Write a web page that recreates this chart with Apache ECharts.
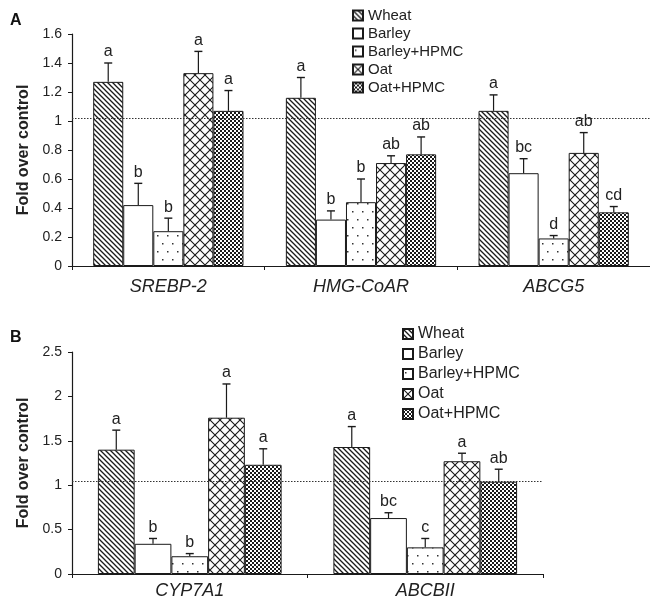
<!DOCTYPE html>
<html>
<head>
<meta charset="utf-8">
<script src="https://cdn.jsdelivr.net/npm/echarts@6/dist/echarts.min.js"></script>
<style>
  html, body { margin: 0; padding: 0; background: #fff; }
  #chart { width: 650px; height: 601px; }
</style>
</head>
<body>
<div id="chart"></div>
<script>
const treatments = ['Wheat', 'Barley', 'Barley+HPMC', 'Oat', 'Oat+HPMC'];
const genesA = ['SREBP-2', 'HMG-CoAR', 'ABCG5'];
const genesB = ['CYP7A1', 'ABCBII'];

// fold over control, one value per treatment (same order as treatments)
const srebp2Mean = [1.27, 0.42, 0.24, 1.33, 1.07];
const srebp2Err  = [0.13, 0.15, 0.09, 0.15, 0.14];
const srebp2Sig  = ['a', 'b', 'b', 'a', 'a'];
const hmgMean = [1.16, 0.32, 0.44, 0.71, 0.77];
const hmgErr  = [0.14, 0.06, 0.16, 0.05, 0.12];
const hmgSig  = ['a', 'b', 'b', 'ab', 'ab'];
const abcg5Mean = [1.07, 0.64, 0.19, 0.78, 0.37];
const abcg5Err  = [0.11, 0.10, 0.02, 0.14, 0.04];
const abcg5Sig  = ['a', 'bc', 'd', 'ab', 'cd'];

const cyp7a1Mean = [1.40, 0.34, 0.20, 1.76, 1.23];
const cyp7a1Err  = [0.22, 0.06, 0.03, 0.38, 0.18];
const cyp7a1Sig  = ['a', 'b', 'b', 'a', 'a'];
const abcbiiMean = [1.43, 0.63, 0.30, 1.27, 1.04];
const abcbiiErr  = [0.23, 0.06, 0.10, 0.09, 0.14];
const abcbiiSig  = ['a', 'bc', 'c', 'a', 'ab'];

// y axes and the dotted control line
const yMaxA = 1.6, yStepA = 0.2, controlA = 1.02;
const yMaxB = 2.5, yStepB = 0.5, controlB = 1.04;

const meansA = [srebp2Mean, hmgMean, abcg5Mean];
const errsA = [srebp2Err, hmgErr, abcg5Err];
const sigsA = [srebp2Sig, hmgSig, abcg5Sig];
const meansB = [cyp7a1Mean, abcbiiMean];
const errsB = [cyp7a1Err, abcbiiErr];
const sigsB = [cyp7a1Sig, abcbiiSig];

const FONT = '"Liberation Sans", Arial, Helvetica, sans-serif';
const INK = '#1a1a1a';
const CAT_GAP = 0.22;

// fill patterns drawn on small canvases
function pattern(w, h, draw) {
  const c = document.createElement('canvas');
  c.width = w; c.height = h;
  const ctx = c.getContext('2d');
  ctx.fillStyle = '#fff';
  ctx.fillRect(0, 0, w, h);
  draw(ctx);
  return { image: c, repeat: 'repeat' };
}
const fills = [
  pattern(5, 5, ctx => { // diagonal stripes
    ctx.strokeStyle = INK; ctx.lineWidth = 1.3;
    ctx.beginPath();
    ctx.moveTo(-1, -1); ctx.lineTo(6, 6);
    ctx.moveTo(4, -1); ctx.lineTo(6, 1);
    ctx.moveTo(-1, 4); ctx.lineTo(1, 6);
    ctx.stroke();
  }),
  '#fff',
  pattern(10, 16, ctx => { // sparse dots
    ctx.fillStyle = '#333';
    ctx.fillRect(2, 3, 1.5, 1.5);
    ctx.fillRect(7, 11, 1.5, 1.5);
  }),
  pattern(10, 10, ctx => { // crosshatch
    ctx.strokeStyle = INK; ctx.lineWidth = 1.1;
    ctx.beginPath();
    ctx.moveTo(-1, -1); ctx.lineTo(11, 11);
    ctx.moveTo(11, -1); ctx.lineTo(-1, 11);
    ctx.stroke();
  }),
  pattern(4, 4, ctx => { // checkerboard
    ctx.fillStyle = INK;
    ctx.fillRect(0, 0, 4, 4);
    ctx.fillStyle = '#fff';
    ctx.fillRect(0, 0, 2, 2);
    ctx.fillRect(2, 2, 2, 2);
  })
];

function barSeries(gridIdx, means, control) {
  return treatments.map((name, k) => {
    const s = {
      name: name,
      type: 'bar',
      xAxisIndex: gridIdx,
      yAxisIndex: gridIdx,
      data: means.map(m => m[k]),
      barGap: '0%',
      barCategoryGap: (CAT_GAP * 100) + '%',
      itemStyle: { color: fills[k], borderColor: INK, borderWidth: 1 },
      emphasis: { disabled: true },
      animation: false
    };
    if (k === 0) {
      s.markLine = {
        silent: true,
        symbol: ['none', 'none'],
        label: { show: false },
        lineStyle: { color: '#333', width: 1, type: [1.5, 1.5] },
        data: [{ yAxis: control }]
      };
    }
    return s;
  });
}

function errorSeries(gridIdx, means, errs, sigs) {
  const data = [];
  means.forEach((m, cat) => m.forEach((v, k) => data.push([cat, k, v, errs[cat][k]])));
  return {
    type: 'custom',
    xAxisIndex: gridIdx,
    yAxisIndex: gridIdx,
    z: 5,
    silent: true,
    animation: false,
    data: data,
    renderItem: (params, api) => {
      const cat = api.value(0), k = api.value(1);
      const mean = api.value(2), err = api.value(3);
      const band = api.size([1, 0])[0];
      const barW = band * (1 - CAT_GAP) / treatments.length;
      const base = api.coord([cat, mean]);
      const top = api.coord([cat, mean + err]);
      const x = base[0] + (k - 2) * barW;
      return {
        type: 'group',
        children: [
          { type: 'line', shape: { x1: x, y1: base[1], x2: x, y2: top[1] },
            style: { stroke: INK, lineWidth: 1.2 } },
          { type: 'line', shape: { x1: x - 4, y1: top[1], x2: x + 4, y2: top[1] },
            style: { stroke: INK, lineWidth: 1.4 } },
          { type: 'text', x: x, y: top[1] - 3,
            style: { text: sigs[cat][k], align: 'center', verticalAlign: 'bottom',
                     font: '16px ' + FONT, fill: '#222' } }
        ]
      };
    }
  };
}

function xAxis(gridIdx, genes, margin) {
  return {
    type: 'category',
    gridIndex: gridIdx,
    data: genes,
    axisLine: { lineStyle: { color: INK, width: 1.2 } },
    axisTick: { show: true, length: 4, lineStyle: { color: INK } },
    axisLabel: { fontFamily: FONT, fontSize: 18, fontStyle: 'italic', color: '#222', margin: margin }
  };
}

function yAxis(gridIdx, max, step) {
  return {
    type: 'value',
    gridIndex: gridIdx,
    min: 0, max: max, interval: step,
    name: 'Fold over control',
    nameLocation: 'middle',
    nameGap: 37,
    nameTextStyle: { fontFamily: FONT, fontSize: 16, fontWeight: 'bold', color: '#222' },
    axisLine: { show: true, lineStyle: { color: INK, width: 1.2 } },
    axisTick: { show: true, length: 4, lineStyle: { color: INK } },
    splitLine: { show: false },
    axisLabel: { fontFamily: FONT, fontSize: 14, color: '#222', margin: 10 }
  };
}

function legend(left, top, size, gap) {
  return {
    data: treatments,
    orient: 'vertical',
    left: left, top: top,
    icon: 'rect',
    itemWidth: 10, itemHeight: 10,
    itemGap: gap,
    selectedMode: false,
    textStyle: { fontFamily: FONT, fontSize: size, color: '#222' }
  };
}

const chart = echarts.init(document.getElementById('chart'), null, { renderer: 'canvas' });
chart.setOption({
  backgroundColor: '#fff',
  animation: false,
  grid: [
    { left: 72, top: 34, width: 578, height: 232 },
    { left: 72, top: 352, width: 471, height: 222 }
  ],
  xAxis: [xAxis(0, genesA, 12), xAxis(1, genesB, 8)],
  yAxis: [yAxis(0, yMaxA, yStepA), yAxis(1, yMaxB, yStepB)],
  legend: [legend(347, 3, 15, 3), legend(397, 321, 16, 4)],
  graphic: [
    { type: 'text', left: 10, top: 13, style: { text: 'A', font: 'bold 16px ' + FONT, fill: '#111' } },
    { type: 'text', left: 10, top: 330, style: { text: 'B', font: 'bold 16px ' + FONT, fill: '#111' } }
  ],
  series: [
    ...barSeries(0, meansA, controlA),
    errorSeries(0, meansA, errsA, sigsA),
    ...barSeries(1, meansB, controlB),
    errorSeries(1, meansB, errsB, sigsB)
  ]
});
</script>
</body>
</html>
